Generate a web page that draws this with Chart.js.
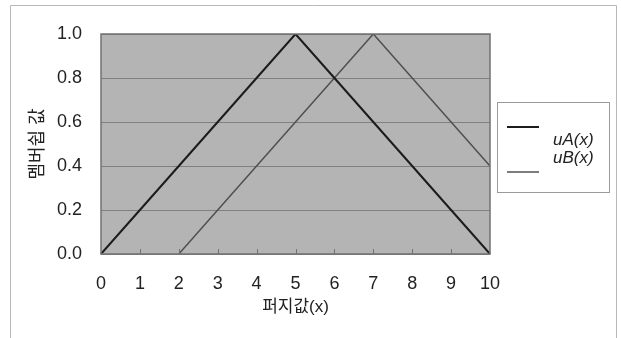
<!DOCTYPE html>
<html>
<head>
<meta charset="utf-8">
<script src="https://cdn.jsdelivr.net/npm/chart.js@4"></script>
<style>
  html, body { margin: 0; padding: 0; background: #fff; }
  #wrap { width: 621px; height: 338px; position: relative; }
</style>
</head>
<body>
<div id="wrap"><canvas id="myChart" width="621" height="338"></canvas></div>
<script>
var xLabels = ['0', '1', '2', '3', '4', '5', '6', '7', '8', '9', '10'];
var muA = [0, 0.2, 0.4, 0.6, 0.8, 1.0, 0.8, 0.6, 0.4, 0.2, 0];
var muB = [null, null, 0, 0.2, 0.4, 0.6, 0.8, 1.0, 0.8, 0.6, 0.4];
var seriesNames = ['uA(x)', 'uB(x)'];
var yTitle = '멤버쉽 값';
var xTitle = '퍼지값(x)';

var FONT = '"Liberation Sans", "Noto Sans CJK KR", sans-serif';

// plot background, frame, inner x ticks and the odd boxed legend
var decor = {
    id: 'decor',
    beforeDraw: function (chart) {
        var c = chart.ctx, a = chart.chartArea;
        c.save();
        c.fillStyle = '#fff';
        c.fillRect(0, 0, chart.width, chart.height);
        c.strokeStyle = '#b8b8b8';
        c.lineWidth = 1;
        c.beginPath();
        c.moveTo(10.5, 338); c.lineTo(10.5, 5.5); c.lineTo(616.5, 5.5); c.lineTo(616.5, 338);
        c.stroke();
        c.fillStyle = '#b4b4b4';
        c.fillRect(a.left, a.top, a.right - a.left, a.bottom - a.top);
        c.restore();
    },
    afterDatasetsDraw: function (chart) {
        var c = chart.ctx, a = chart.chartArea, xs = chart.scales.x;
        c.save();
        c.strokeStyle = '#727272';
        c.lineWidth = 1.5;
        c.strokeRect(a.left, a.top, a.right - a.left, a.bottom - a.top);
        c.lineWidth = 1;
        for (var i = 1; i < xLabels.length - 1; i++) {
            var px = Math.round(xs.getPixelForValue(i)) + 0.5;
            c.beginPath(); c.moveTo(px, a.bottom); c.lineTo(px, a.bottom - 5); c.stroke();
        }
        // legend
        c.strokeStyle = '#9a9a9a';
        c.strokeRect(497.5, 102.5, 112, 90);
        var ds = chart.data.datasets;
        var lineY = [127, 172], textY = [140, 158];
        c.font = 'italic 17px ' + FONT;
        c.textBaseline = 'middle';
        c.fillStyle = '#222';
        for (var k = 0; k < ds.length; k++) {
            c.strokeStyle = ds[k].borderColor;
            c.lineWidth = ds[k].borderWidth;
            c.beginPath(); c.moveTo(507, lineY[k]); c.lineTo(539, lineY[k]); c.stroke();
            c.fillText(ds[k].label, 553, textY[k]);
        }
        c.restore();
    }
};

var ctx = document.getElementById('myChart').getContext('2d');
var myChart = new Chart(ctx, {
    type: 'line',
    data: {
        labels: xLabels,
        datasets: [
            { label: seriesNames[0], data: muA, borderColor: '#1c1c1c', borderWidth: 2, pointRadius: 0, tension: 0 },
            { label: seriesNames[1], data: muB, borderColor: '#505050', borderWidth: 1.5, pointRadius: 0, tension: 0 }
        ]
    },
    options: {
        responsive: false,
        animation: false,
        layout: { padding: { left: 0, top: 34, right: 131, bottom: 0 } },
        plugins: { legend: { display: false }, tooltip: { enabled: false } },
        scales: {
            x: {
                grid: { display: false, drawTicks: false },
                border: { display: false },
                ticks: { color: '#222', padding: 19, maxRotation: 0, font: { family: FONT, size: 18 } },
                title: { display: true, text: xTitle, color: '#222', padding: { top: 0, bottom: 20 }, font: { family: FONT, size: 17 } },
                afterFit: function (s) { s.height = 84; }
            },
            y: {
                min: 0, max: 1,
                grid: { color: '#808080', lineWidth: 1, drawTicks: false },
                border: { display: false },
                ticks: { stepSize: 0.2, color: '#222', padding: 19, font: { family: FONT, size: 18 },
                         callback: function (v) { return v.toFixed(1); } },
                title: { display: true, text: yTitle, color: '#222', padding: { top: 27, bottom: 0 }, font: { family: FONT, size: 18 } },
                afterFit: function (s) { s.width = 101; }
            }
        }
    },
    plugins: [decor]
});
</script>
</body>
</html>
